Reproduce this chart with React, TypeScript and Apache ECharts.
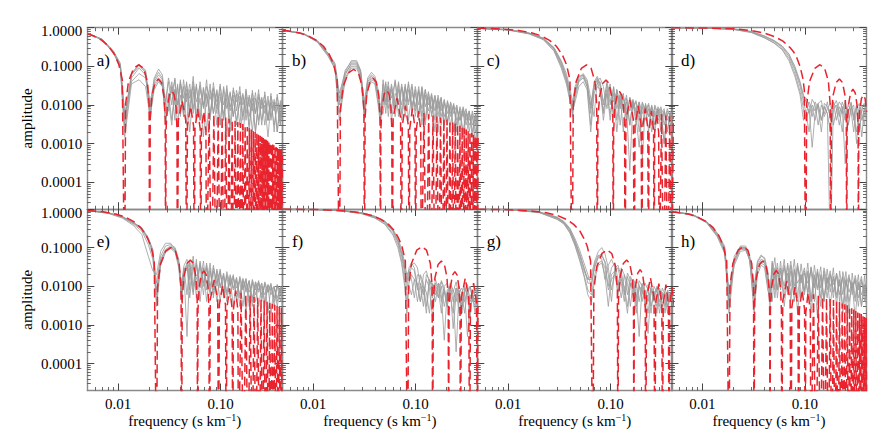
import React, { useEffect, useRef } from "react";
import * as echarts from "echarts";

// ---------- axes ----------
const X_MIN = 0.005;
const X_MAX = 0.4;
const Y_MIN = 2e-5;
const Y_MAX = 1;
const X_MAJOR = [0.01, 0.1];
const X_MINOR = [0.006, 0.007, 0.008, 0.009, 0.02, 0.03, 0.04, 0.05, 0.06, 0.07, 0.08, 0.09, 0.2, 0.3];
const Y_MAJOR = [0.0001, 0.001, 0.01, 0.1, 1];
const Y_MINOR = [3e-5, 4e-5, 5e-5, 6e-5, 7e-5, 8e-5, 9e-5, 2e-4, 3e-4, 4e-4, 5e-4, 6e-4, 7e-4, 8e-4, 9e-4,
  0.002, 0.003, 0.004, 0.005, 0.006, 0.007, 0.008, 0.009, 0.02, 0.03, 0.04, 0.05, 0.06, 0.07, 0.08, 0.09,
  0.2, 0.3, 0.4, 0.5, 0.6, 0.7, 0.8, 0.9];
const PANEL_LABELS = ["a)", "b)", "c)", "d)", "e)", "f)", "g)", "h)"];

// ---------- red dashed model curves [frequency, amplitude] (0 = zero crossing) ----------
const RED_A = [[.005,.7],[.00578,.61],[.00694,.47],[.00809,.33],[.00925,.2],[.01017,.11],[.01098,.045],[.01156,0],
[.01182,.0103],[.01261,.0405],[.01419,.089],[.01594,.11],[.01769,.089],[.01926,.0405],[.02005,.0103],[.02031,0],
[.02057,.0044],[.02136,.0173],[.02294,.038],[.02469,.047],[.02644,.038],[.02801,.0173],[.0288,.0044],[.02906,0],
[.02932,.0022],[.03011,.0085],[.03169,.0186],[.03344,.023],[.03519,.0186],[.03676,.0085],[.03755,.0022],[.03781,0],
[.03869,.004],[.04219,.0128],[.04569,.004],[.04656,0],[.04744,.0029],[.05094,.0092],[.05444,.0029],[.05531,0],
[.05619,.0024],[.05969,.0078],[.06319,.0024],[.06406,0],[.06494,.0021],[.06844,.0068],[.07194,.0021],[.07281,0],
[.07719,.0062],[.08156,0],[.08594,.0057],[.09031,0],[.09469,.0053],[.09906,0],[.10344,.005],[.10781,0],[.11219,.0047],[.11656,0],
[.12094,.0044],[.12531,0],[.12969,.0042],[.13406,0],[.13844,.0039],[.14281,0],[.14719,.0036],[.15156,0],[.15594,.0034],[.16031,0],
[.16469,.0032],[.16906,0],[.17344,.0029],[.17781,0],[.18219,.0027],[.18656,0],[.19094,.0025],[.19531,0],[.19969,.0023],[.20406,0],
[.20844,.0021],[.21281,0],[.21719,.002],[.22156,0],[.22594,.0019],[.23031,0],[.23469,.0017],[.23906,0],[.24344,.0016],[.24781,0],
[.25219,.0015],[.25656,0],[.26094,.0014],[.26531,0],[.26969,.0013],[.27406,0],[.27844,.00125],[.28281,0],[.28719,.00118],[.29156,0],
[.29594,.00112],[.30031,0],[.30469,.00106],[.30906,0],[.31344,.001],[.31781,0],[.32219,.00095],[.32656,0],[.33094,.0009],[.33531,0],
[.33969,.00086],[.34406,0],[.34844,.00082],[.35281,0],[.35719,.00079],[.36156,0],[.36594,.00076],[.37031,0],[.37469,.00073],[.37906,0],
[.38344,.0007],[.38781,0],[.39219,.00068],[.39656,0],[.40094,.00066]];

const RED_B = [[.005,.87],[.0072,.74],[.009,.61],[.0108,.47],[.0126,.33],[.0144,.2],[.01584,.11],[.0171,.045],[.018,0],
[.01841,.0079],[.01964,.0309],[.02209,.068],[.02482,.084],[.02754,.068],[.02999,.0309],[.03122,.0079],[.03163,0],
[.03204,.0046],[.03327,.018],[.03572,.0397],[.03845,.049],[.04117,.0397],[.04362,.018],[.04485,.0046],[.04526,0],
[.04567,.0023],[.0469,.0088],[.04935,.0194],[.05208,.024],[.0548,.0194],[.05725,.0088],[.05848,.0023],[.05889,0],
[.06025,.0047],[.06571,.015],[.07116,.0047],[.07252,0],[.07388,.0029],[.07934,.0095],[.08479,.0029],[.08615,0],
[.08751,.0025],[.09297,.008],[.09842,.0025],[.09978,0],[.10114,.0021],[.1066,.0069],[.11205,.0021],[.11341,0],
[.12023,.0062],[.12704,0],[.13386,.0057],[.14067,0],[.14749,.0053],[.1543,0],[.16112,.005],[.16793,0],[.17475,.0047],[.18156,0],
[.18838,.0044],[.19519,0],[.20201,.0042],[.20882,0],[.21564,.0039],[.22245,0],[.22927,.0036],[.23608,0],[.2429,.0034],[.24971,0],
[.25653,.0032],[.26334,0],[.27016,.0029],[.27697,0],[.28379,.0027],[.2906,0],[.29742,.0025],[.30423,0],[.31105,.0023],[.31786,0],
[.32468,.0021],[.33149,0],[.33831,.002],[.34512,0],[.35194,.0019],[.35875,0],[.36557,.0017],[.37238,0],[.3792,.0016],[.38601,0],
[.39283,.0015],[.39964,0],[.40646,.0014]];

const RED_C = [[.005,.975],[.00844,.93],[.01266,.85],[.01688,.74],[.0211,.61],[.02532,.47],[.02954,.33],[.03376,.2],[.03714,.11],[.04009,.045],[.0422,0],
[.04316,.0102],[.04603,.0401],[.05179,.0883],[.05818,.109],[.06457,.0883],[.07032,.0401],[.07319,.0102],[.07415,0],
[.07511,.0042],[.07798,.0164],[.08374,.036],[.09013,.0445],[.09652,.036],[.10227,.0164],[.10514,.0042],[.1061,0],
[.10706,.0021],[.10993,.0082],[.11569,.018],[.12208,.0223],[.12847,.018],[.13422,.0082],[.13709,.0021],[.13805,0],
[.14125,.0042],[.15403,.0135],[.1668,.0042],[.17,0],[.1732,.0029],[.18598,.0095],[.19876,.0029],[.20195,0],
[.20515,.0025],[.21793,.008],[.2307,.0025],[.2339,0],[.2371,.0022],[.24988,.007],[.26265,.0022],[.26585,0],
[.26905,.0019],[.28183,.0062],[.2946,.0019],[.2978,0],[.31378,.0057],[.32975,0],[.34573,.0053],[.3617,0],[.37768,.005],[.39365,0],[.40963,.0048]];

const RED_D = [[.005,.997],[.0102,.985],[.0204,.94],[.0306,.84],[.0408,.72],[.051,.58],[.0612,.45],[.0714,.31],[.07752,.24],[.08364,.165],[.08976,.1],[.09588,.048],[.09894,.024],[.102,0],
[.10432,.0103],[.11126,.0405],[.12516,.089],[.1406,.11],[.15604,.089],[.16994,.0405],[.17688,.0103],[.1792,0],
[.18152,.0044],[.18846,.0173],[.20236,.038],[.2178,.047],[.23324,.038],[.24714,.0173],[.25408,.0044],[.2564,0],
[.25872,.0024],[.26566,.0094],[.27956,.0206],[.295,.0255],[.31044,.0206],[.32434,.0094],[.33128,.0024],[.3336,0],
[.33592,.0017],[.34286,.0066],[.35676,.0146],[.3722,.018],[.38764,.0146],[.40154,.0066]];

const RED_E = [[.005,.92],[.00711,.85],[.00948,.74],[.01185,.61],[.01422,.47],[.01659,.33],[.01896,.2],[.02086,.11],[.02252,.045],[.0237,0],
[.02424,.0094],[.02585,.0368],[.02908,.081],[.03267,.1],[.03626,.081],[.03949,.0368],[.0411,.0094],[.04164,0],
[.04218,.0045],[.04379,.0177],[.04702,.0389],[.05061,.048],[.0542,.0389],[.05743,.0177],[.05904,.0045],[.05958,0],
[.06012,.0024],[.06173,.0092],[.06496,.0203],[.06855,.025],[.07214,.0203],[.07537,.0092],[.07698,.0024],[.07752,0],
[.07931,.0045],[.08649,.0145],[.09367,.0045],[.09546,0],[.09725,.0033],[.10443,.0105],[.11161,.0033],[.1134,0],
[.11519,.0027],[.12237,.0088],[.12955,.0027],[.13134,0],[.13313,.0024],[.14031,.0077],[.14749,.0024],[.14928,0],
[.15825,.0068],[.16722,0],[.17619,.0062],[.18516,0],[.19413,.0057],[.2031,0],[.21207,.0053],[.22104,0],[.23001,.005],[.23898,0],
[.24795,.0046],[.25692,0],[.26589,.0043],[.27486,0],[.28383,.004],[.2928,0],[.30177,.0037],[.31074,0],[.31971,.0035],[.32868,0],
[.33765,.0033],[.34662,0],[.35559,.0031],[.36456,0],[.37353,.0029],[.3825,0],[.39147,.0028],[.40044,0]];

const RED_F = [[.005,.995],[.01251,.96],[.02085,.89],[.02919,.795],[.03753,.675],[.04587,.54],[.05421,.4],[.06255,.265],[.06839,.17],[.07339,.11],[.07923,.045],[.0834,0],
[.08529,.01],[.09097,.039],[.10233,.0859],[.11495,.106],[.12757,.0859],[.13893,.039],[.14461,.01],[.1465,0],
[.14839,.0042],[.15407,.0166],[.16543,.0365],[.17805,.045],[.19067,.0365],[.20203,.0166],[.20771,.0042],[.2096,0],
[.21149,.0023],[.21717,.0088],[.22853,.0194],[.24115,.024],[.25377,.0194],[.26513,.0088],[.27081,.0023],[.2727,0],
[.27901,.005],[.30425,.016],[.32949,.005],[.3358,0],[.34211,.0037],[.36735,.012],[.39259,.0037],[.3989,0],[.40521,.003]];

const RED_G = [[.005,.99],[.01007,.96],[.01678,.89],[.02349,.8],[.0302,.68],[.0369,.54],[.04362,.4],[.05033,.265],[.05502,.17],[.05905,.11],[.06375,.045],[.0671,0],
[.06862,.0082],[.0732,.032],[.08234,.0705],[.0925,.087],[.10266,.0705],[.1118,.032],[.11638,.0082],[.1179,0],
[.11942,.0045],[.124,.0177],[.13314,.0389],[.1433,.048],[.15346,.0389],[.1626,.0177],[.16718,.0045],[.1687,0],
[.17022,.0025],[.1748,.0097],[.18394,.0219],[.1941,.027],[.20426,.0219],[.2134,.0097],[.21798,.0025],[.2195,0],
[.22458,.0051],[.2449,.0165],[.26522,.0051],[.2703,0],[.27538,.0036],[.2957,.0117],[.31602,.0036],[.3211,0],
[.32618,.0034],[.3465,.011],[.36682,.0034],[.3719,0],[.37698,.0029],[.3973,.0095],[.41762,.0029]];

const RED_H = [[.005,.85],[.00728,.74],[.0091,.61],[.01092,.47],[.01274,.33],[.01456,.2],[.01602,.11],[.01729,.045],[.0182,0],
[.01861,.01],[.01985,.039],[.02233,.086],[.02509,.106],[.02785,.086],[.03033,.039],[.03157,.01],[.03198,0],
[.03239,.0042],[.03363,.0166],[.03611,.0365],[.03887,.045],[.04163,.0365],[.04411,.0166],[.04535,.0042],[.04576,0],
[.04617,.0024],[.04741,.0094],[.04989,.0207],[.05265,.0256],[.05541,.0207],[.05789,.0094],[.05913,.0024],[.05954,0],
[.06092,.0042],[.06643,.0135],[.07194,.0042],[.07332,0],[.0747,.0029],[.08021,.0095],[.08572,.0029],[.0871,0],
[.08848,.0025],[.09399,.008],[.0995,.0025],[.10088,0],[.10226,.0021],[.10777,.0069],[.11328,.0021],[.11466,0],
[.12155,.0062],[.12844,0],[.13533,.0057],[.14222,0],[.14911,.0053],[.156,0],[.16289,.005],[.16978,0],[.17667,.0047],[.18356,0],
[.19045,.0044],[.19734,0],[.20423,.0042],[.21112,0],[.21801,.0039],[.2249,0],[.23179,.0036],[.23868,0],[.24557,.0034],[.25246,0],
[.25935,.0032],[.26624,0],[.27313,.0029],[.28002,0],[.28691,.0027],[.2938,0],[.30069,.0025],[.30758,0],[.31447,.0023],[.32136,0],
[.32825,.0021],[.33514,0],[.34203,.002],[.34892,0],[.35581,.0019],[.3627,0],[.36959,.0017],[.37648,0],[.38337,.0016],[.39026,0],
[.39715,.0015],[.40404,0]];

// ---------- grey measured curves: frequency grid per panel + amplitudes ----------
const GRID_A = [.005,.007,.009,.0105,.0116,.0135,.016,.0185,.0205,.0225,.0248,.027,.029,.031,.0334,.0358,.038,.0405,.0435,.0465,.05,.054,.058,.063,.068,.073,.079,.085,.092,.099,.107,.115,.124,.133,.143,.154,.165,.177,.19,.204,.219,.235,.252,.27,.29,.31,.333,.357,.383,.4];
const GRAY_A = [
[.72,.5,.24,.11,.004,.065,.11,.075,.006,.04,.06,.045,.01,.04,.01,.05,.006,.045,.005,.04,.008,.055,.005,.04,.009,.045,.004,.038,.008,.035,.004,.032,.003,.028,.007,.03,.004,.026,.002,.024,.006,.025,.003,.022,.004,.02,.002,.019,.004,.017],
[.72,.49,.23,.1,.003,.06,.1,.07,.004,.045,.07,.05,.004,.008,.04,.01,.03,.005,.045,.012,.035,.006,.03,.004,.028,.009,.035,.006,.025,.003,.03,.008,.022,.005,.024,.01,.02,.004,.018,.007,.021,.003,.016,.006,.017,.004,.014,.002,.013,.006],
[.71,.48,.22,.09,.002,.05,.09,.06,.008,.03,.045,.03,.006,.02,.004,.025,.003,.018,.006,.02,.002,.022,.004,.015,.0015,.018,.005,.02,.003,.016,.006,.015,.002,.014,.004,.012,.0015,.013,.003,.011,.002,.012,.004,.01,.0015,.011,.003,.009,.003,.01],
[.72,.5,.25,.12,.006,.04,.065,.05,.01,.05,.085,.06,.012,.05,.02,.045,.01,.04,.015,.035,.006,.04,.012,.032,.008,.03,.014,.028,.006,.03,.01,.026,.007,.024,.012,.022,.005,.023,.009,.02,.006,.019,.01,.018,.004,.017,.008,.016,.005,.015],
[.71,.49,.23,.1,.0015,.035,.045,.03,.005,.025,.04,.03,.008,.007,.03,.004,.035,.006,.03,.003,.025,.008,.035,.004,.028,.002,.025,.006,.022,.003,.026,.0015,.02,.005,.019,.003,.018,.006,.016,.002,.015,.004,.014,.003,.013,.005,.012,.002,.011,.004],
[.72,.5,.24,.11,.005,.065,.11,.08,.012,.035,.05,.04,.003,.012,.003,.025,.01,.035,.005,.025,.015,.03,.004,.025,.01,.02,.006,.026,.012,.02,.004,.02,.009,.018,.003,.017,.01,.016,.005,.015,.002,.016,.008,.013,.004,.012,.007,.011,.003,.01]];

const GRID_B = [.005,.008,.011,.014,.0163,.018,.0205,.0235,.0265,.029,.0316,.034,.037,.04,.043,.0453,.048,.051,.054,.058,.063,.068,.073,.079,.085,.092,.099,.107,.115,.124,.133,.143,.154,.165,.177,.19,.204,.219,.235,.252,.27,.29,.31,.333,.357,.383,.4];
const GRAY_B = [
[.87,.7,.45,.21,.11,.012,.06,.12,.12,.07,.01,.04,.055,.045,.02,.006,.015,.04,.008,.035,.01,.04,.006,.03,.012,.035,.007,.03,.005,.025,.01,.02,.004,.018,.007,.014,.003,.012,.006,.01,.002,.009,.004,.007,.0015,.006,.003],
[.87,.71,.46,.22,.12,.02,.07,.14,.14,.08,.006,.045,.06,.05,.015,.004,.045,.012,.04,.007,.045,.01,.035,.008,.04,.006,.03,.01,.028,.004,.022,.008,.018,.005,.016,.003,.013,.006,.011,.002,.009,.005,.008,.002,.007,.003,.006],
[.86,.69,.43,.19,.09,.006,.05,.1,.1,.055,.004,.03,.045,.04,.012,.008,.006,.025,.012,.03,.005,.025,.01,.035,.004,.022,.009,.025,.003,.018,.007,.016,.002,.013,.005,.011,.004,.009,.002,.008,.004,.007,.0015,.006,.003,.005,.001],
[.87,.7,.44,.2,.1,.015,.08,.13,.13,.075,.012,.05,.07,.055,.025,.005,.035,.006,.03,.015,.04,.005,.03,.012,.035,.008,.025,.004,.03,.009,.02,.005,.017,.008,.015,.003,.012,.005,.01,.003,.008,.002,.007,.004,.006,.001,.005],
[.86,.69,.42,.18,.085,.004,.045,.09,.09,.05,.008,.025,.04,.035,.01,.003,.02,.01,.03,.004,.02,.012,.028,.005,.025,.01,.02,.006,.022,.003,.016,.006,.014,.002,.012,.005,.01,.003,.009,.004,.007,.0015,.006,.003,.005,.002,.004],
[.87,.7,.45,.21,.105,.01,.065,.11,.11,.065,.005,.035,.05,.042,.018,.01,.01,.035,.005,.025,.008,.035,.004,.028,.01,.03,.005,.022,.008,.025,.004,.018,.007,.015,.003,.013,.006,.011,.002,.009,.004,.008,.003,.007,.002,.006,.002]];

const GRID_C = [.005,.01,.016,.022,.028,.033,.037,.04,.0425,.045,.049,.054,.059,.064,.069,.074,.079,.085,.092,.099,.107,.115,.124,.133,.143,.154,.165,.177,.19,.204,.219,.235,.252,.27,.29,.31,.333,.357,.383,.4];
const GRAY_C = [
[.97,.89,.72,.53,.3,.13,.055,.022,.008,.02,.045,.06,.04,.008,.03,.045,.02,.006,.035,.01,.028,.004,.02,.008,.018,.003,.014,.007,.012,.0004,.011,.005,.01,.003,.009,.006,.008,.002,.007,.005],
[.97,.88,.71,.52,.28,.11,.045,.018,.006,.015,.04,.05,.03,.003,.025,.035,.04,.012,.025,.004,.03,.008,.018,.002,.015,.007,.013,.003,.012,.006,.01,.002,.009,.005,.008,.002,.007,.004,.006,.002],
[.97,.88,.7,.5,.26,.1,.04,.015,.01,.025,.05,.065,.045,.015,.005,.04,.05,.03,.008,.03,.012,.022,.003,.016,.008,.0002,.012,.006,.011,.003,.01,.005,.009,.002,.008,.004,.007,.002,.006,.004],
[.97,.89,.73,.54,.31,.14,.065,.028,.012,.03,.055,.06,.03,.01,.035,.05,.03,.004,.02,.035,.006,.025,.01,.017,.004,.015,.008,.012,.002,.011,.006,.01,.003,.009,.005,.008,.001,.007,.005,.006],
[.96,.87,.69,.49,.25,.09,.035,.013,.007,.012,.03,.04,.025,.002,.02,.03,.025,.007,.02,.006,.02,.002,.014,.007,.012,.003,.011,.005,.0008,.009,.004,.008,.002,.007,.004,.006,.001,.006,.003,.005],
[.97,.89,.72,.53,.29,.12,.05,.02,.005,.02,.042,.055,.035,.006,.04,.055,.035,.01,.04,.015,.005,.025,.008,.02,.004,.016,.009,.013,.004,.012,.007,.011,.003,.01,.006,.009,.003,.008,.005,.007]];

const GRID_D = [.005,.01,.02,.03,.04,.05,.06,.07,.08,.09,.097,.103,.11,.118,.126,.135,.145,.155,.166,.178,.19,.203,.217,.232,.248,.265,.283,.3,.32,.34,.36,.38,.4];
const GRAY_D = [
[.998,.985,.93,.8,.62,.47,.34,.21,.1,.04,.018,.012,.006,.014,.01,.003,.01,.006,.012,.004,.009,.013,.007,.002,.01,.006,.012,.004,.009,.002,.008,.011,.005],
[.998,.985,.92,.78,.59,.44,.31,.18,.08,.03,.012,.006,.012,.008,.004,.011,.013,.005,.008,.011,.003,.007,.012,.009,.004,.01,.007,.002,.008,.011,.006,.003,.009],
[.997,.98,.91,.76,.56,.41,.28,.16,.065,.022,.008,.004,.008,.0008,.006,.01,.004,.009,.006,1e-6,.012,.008,.003,.009,.0003,.007,.011,.005,.002,.009,.004,.007,.01],
[.998,.985,.93,.79,.61,.46,.33,.2,.09,.036,.016,.015,.01,.005,.012,.008,.002,.011,.009,.005,.012,.004,.009,.006,.013,.003,.008,.01,.001,.007,.01,.005,.008],
[.997,.98,.9,.75,.55,.4,.27,.14,.055,.018,.004,.006,.002,.01,.007,.011,.004,.009,.006,.002,.008,.01,.005,.012,.007,.003,.009,.005,.01,.006,.0015,.008,.006]];

const GRID_E = [.005,.008,.011,.014,.017,.0197,.0218,.0237,.026,.029,.0325,.036,.039,.0416,.044,.047,.05,.054,.058,.063,.068,.073,.079,.085,.092,.099,.107,.115,.124,.133,.143,.154,.165,.177,.19,.204,.219,.235,.252,.27,.29,.31,.333,.357,.383,.4];
const GRAY_E = [
[.92,.8,.64,.45,.32,.17,.08,.008,.05,.09,.11,.09,.045,.006,.025,.04,.008,.045,.005,.04,.01,.035,.006,.03,.012,.025,.005,.02,.01,.018,.004,.016,.008,.015,.003,.014,.006,.013,.004,.012,.007,.011,.003,.011,.006,.01],
[.92,.79,.62,.43,.3,.15,.07,.004,.04,.08,.1,.085,.04,.01,.03,.006,.04,.01,.05,.004,.03,.012,.04,.006,.025,.009,.02,.004,.018,.008,.016,.003,.015,.007,.014,.004,.013,.008,.012,.003,.011,.006,.01,.004,.01,.005],
[.91,.77,.58,.38,.22,.06,.025,.02,.08,.13,.13,.09,.04,.012,.035,.05,.015,.06,.008,.045,.012,.04,.007,.035,.01,.028,.006,.024,.011,.02,.005,.018,.009,.016,.004,.015,.008,.014,.005,.013,.007,.012,.004,.011,.007,.01],
[.92,.8,.63,.44,.31,.16,.085,.012,.06,.11,.12,.1,.05,.004,.02,.0005,.03,.006,.035,.009,.03,.004,.025,.008,.02,.004,.018,.007,.015,.003,.014,.006,.013,.002,.012,.005,.011,.003,.01,.006,.01,.002,.009,.005,.009,.003],
[.91,.78,.6,.41,.27,.12,.05,.006,.045,.085,.105,.08,.035,.008,.03,.025,.045,.007,.04,.012,.045,.008,.03,.005,.028,.01,.022,.006,.02,.009,.017,.005,.016,.008,.014,.003,.013,.007,.012,.004,.011,.008,.01,.003,.009,.006],
[.92,.79,.63,.45,.33,.18,.09,.003,.035,.075,.095,.075,.03,.005,.018,.035,.005,.03,.015,.035,.006,.03,.01,.025,.004,.022,.008,.018,.005,.016,.009,.014,.003,.013,.007,.012,.004,.012,.006,.011,.002,.01,.005,.01,.004,.009]];

const GRID_F = [.005,.01,.02,.03,.04,.05,.06,.067,.073,.078,.082,.086,.091,.097,.104,.111,.119,.127,.136,.146,.156,.167,.178,.19,.203,.217,.232,.248,.265,.283,.3,.32,.34,.36,.38,.4];
const GRAY_F = [
[.995,.98,.9,.78,.62,.45,.26,.14,.06,.022,.008,.02,.03,.025,.008,.02,.012,.003,.015,.01,.004,.012,.006,.0004,.008,.01,.004,.009,.002,.007,.01,.005,.0015,.008,.006,.003],
[.995,.98,.9,.79,.64,.47,.28,.16,.075,.032,.015,.03,.04,.03,.01,.004,.02,.025,.012,.005,.015,.008,.002,.01,.012,.006,.002,.009,.007,.003,.008,.011,.004,.006,.009,.007],
[.995,.975,.89,.76,.59,.42,.23,.12,.045,.014,.004,.012,.02,.015,.004,.012,.006,.015,.009,.0015,.01,.012,.004,.008,.003,.009,.006,.0002,.007,.009,.004,.008,.002,.006,.004,.007],
[.995,.98,.91,.8,.65,.49,.3,.18,.09,.04,.02,.025,.035,.04,.03,.01,.003,.02,.015,.008,.012,.005,.014,.009,.004,.011,.007,.013,.005,.002,.009,.006,.01,.004,.008,.006],
[.995,.975,.88,.75,.58,.4,.21,.1,.038,.01,.002,.01,.006,.015,.012,.004,.01,.007,.002,.012,.008,.005,.01,.003,.007,.009,.0008,.006,.008,.003,.007,.0005,.006,.005,.002,.006],
[.995,.98,.9,.78,.63,.46,.27,.15,.068,.028,.012,.025,.015,.005,.02,.018,.008,.002,.014,.011,.006,.01,.013,.007,.003,.012,.008,.004,.01,.006,.002,.008,.01,.005,.003,.009]];

const GRID_G = [.005,.01,.02,.03,.035,.04,.045,.05,.055,.06,.065,.07,.076,.082,.088,.095,.102,.11,.118,.127,.136,.146,.156,.167,.178,.19,.203,.217,.232,.248,.265,.283,.3,.32,.34,.36,.38,.4];
const GRAY_G = [
[.995,.97,.84,.6,.46,.3,.15,.07,.03,.012,.012,.03,.06,.07,.04,.01,.03,.04,.015,.005,.02,.012,.003,.015,.01,.004,.012,.006,.002,.01,.007,.003,.009,.006,.002,.008,.005,.007],
[.995,.965,.83,.58,.44,.27,.13,.06,.025,.015,.02,.045,.08,.1,.07,.03,.008,.025,.03,.012,.004,.018,.01,.015,.006,.0005,.011,.008,.004,.009,.006,.002,.008,.006,.003,.007,.004,.006],
[.995,.96,.81,.54,.41,.24,.11,.045,.018,.006,.004,.015,.035,.04,.02,.003,.02,.025,.01,.025,.008,.002,.012,.009,.003,.01,.008,.004,.0006,.008,.006,.009,.003,.007,.005,.002,.006,.004],
[.995,.97,.85,.62,.48,.32,.17,.085,.04,.02,.01,.04,.065,.05,.015,.035,.05,.03,.006,.03,.02,.006,.018,.012,.005,.014,.01,.003,.011,.008,.004,.01,.007,.003,.008,.006,.004,.007],
[.995,.96,.82,.55,.42,.25,.12,.05,.02,.008,.006,.02,.04,.045,.03,.008,.015,.02,.007,.015,.01,.003,.012,.008,.002,.01,.007,.005,.009,.003,.007,.008,.002,.006,.007,.003,.005,.006],
[.995,.965,.83,.59,.45,.29,.14,.065,.03,.015,.015,.035,.055,.06,.045,.02,.004,.03,.035,.018,.006,.022,.015,.005,.014,.011,.004,.012,.008,.002,.01,.007,.004,.009,.006,.003,.007,.005]];

const GRID_H = [.005,.008,.011,.014,.0165,.0182,.0205,.0235,.0265,.029,.032,.0345,.0375,.0405,.0435,.0458,.048,.051,.054,.058,.063,.068,.073,.079,.085,.092,.099,.107,.115,.124,.133,.143,.154,.165,.177,.19,.204,.219,.235,.252,.27,.29,.31,.333,.357,.383,.4];
const GRAY_H = [
[.87,.72,.47,.23,.1,.004,.05,.1,.1,.055,.006,.035,.05,.045,.02,.004,.02,.055,.008,.045,.005,.04,.01,.05,.005,.038,.008,.04,.004,.035,.009,.032,.004,.028,.007,.03,.003,.025,.006,.024,.002,.022,.005,.02,.003,.019,.004],
[.87,.71,.46,.21,.085,.002,.04,.09,.09,.045,.003,.03,.045,.04,.015,.008,.04,.008,.03,.012,.05,.006,.035,.004,.03,.012,.025,.006,.03,.009,.022,.003,.025,.008,.02,.005,.022,.01,.018,.004,.017,.008,.016,.003,.015,.006,.013],
[.86,.7,.44,.19,.07,.006,.06,.11,.11,.06,.01,.04,.06,.055,.025,.006,.01,.03,.005,.025,.01,.035,.004,.025,.012,.02,.006,.022,.002,.02,.008,.018,.004,.017,.01,.016,.005,.015,.003,.014,.007,.013,.004,.012,.006,.011,.003],
[.87,.72,.48,.24,.11,.008,.035,.08,.085,.05,.005,.025,.04,.035,.01,.003,.045,.015,.04,.008,.035,.012,.045,.006,.035,.014,.03,.007,.032,.01,.028,.005,.03,.012,.025,.007,.022,.004,.024,.01,.02,.006,.019,.008,.018,.004,.016],
[.87,.71,.46,.22,.095,.003,.05,.105,.1,.05,.008,.045,.065,.05,.012,.01,.004,.025,.008,.03,.003,.022,.006,.028,.002,.02,.007,.025,.004,.018,.0015,.02,.005,.016,.003,.018,.006,.014,.002,.015,.004,.012,.0015,.013,.003,.011,.003],
[.86,.7,.45,.2,.08,.005,.045,.095,.095,.05,.002,.02,.035,.03,.008,.005,.03,.005,.02,.015,.03,.007,.025,.01,.04,.005,.022,.012,.026,.004,.024,.009,.02,.005,.021,.011,.018,.006,.017,.002,.016,.009,.014,.005,.013,.007,.012]];

// ---------- style ----------
const FONT = "Liberation Serif";
const RED = "#e8232d";
const GRAY = "#9a9a9a";
const FRAME = "#8a8a8a";
const TICK = "#444444";
const FLOOR = 1e-7;
const LEFTS = [87.3, 282.4, 477.3, 671.5];
const TOPS = [27.7, 209];
const W = 195;
const H = 181.5;

const PANELS = [
  { red: RED_A, grid: GRID_A, gray: GRAY_A },
  { red: RED_B, grid: GRID_B, gray: GRAY_B },
  { red: RED_C, grid: GRID_C, gray: GRAY_C },
  { red: RED_D, grid: GRID_D, gray: GRAY_D },
  { red: RED_E, grid: GRID_E, gray: GRAY_E },
  { red: RED_F, grid: GRID_F, gray: GRAY_F },
  { red: RED_G, grid: GRID_G, gray: GRAY_G },
  { red: RED_H, grid: GRID_H, gray: GRAY_H },
];

function buildOption() {
  const grids: any[] = [];
  const xAxes: any[] = [];
  const yAxes: any[] = [];
  const series: any[] = [];
  const graphics: any[] = [];

  PANELS.forEach((p, i) => {
    const row = Math.floor(i / 4);
    const col = i % 4;
    const left = LEFTS[col];
    const top = TOPS[row];
    grids.push({ left, top, width: W, height: H });

    const baseX = {
      type: "log", logBase: 10, gridIndex: i, min: X_MIN, max: X_MAX,
      splitLine: { show: false }, minorTick: { show: false }, minorSplitLine: { show: false },
      axisPointer: { show: false }, silent: true,
    };
    const baseY = {
      type: "log", logBase: 10, gridIndex: i, min: Y_MIN, max: Y_MAX,
      splitLine: { show: false }, minorTick: { show: false }, minorSplitLine: { show: false },
      axisPointer: { show: false }, silent: true,
    };
    const majorLine = { show: true, onZero: false, lineStyle: { color: FRAME, width: 1.4 } };
    const noLine = { show: false, onZero: false };
    const majorTickX = { show: true, inside: true, length: 7, customValues: X_MAJOR, lineStyle: { color: TICK, width: 1 } };
    const minorTickX = { show: true, inside: true, length: 3.5, customValues: X_MINOR, lineStyle: { color: TICK, width: 0.8 } };
    const majorTickY = { show: true, inside: true, length: 7, customValues: Y_MAJOR, lineStyle: { color: TICK, width: 1 } };
    const minorTickY = { show: true, inside: true, length: 3.5, customValues: Y_MINOR, lineStyle: { color: TICK, width: 0.8 } };

    xAxes.push({
      ...baseX, position: "bottom", axisLine: majorLine, axisTick: majorTickX,
      axisLabel: {
        show: row === 1, customValues: X_MAJOR, margin: 6,
        formatter: (v: number) => v.toFixed(2),
        fontFamily: FONT, fontSize: 15, color: "#000",
      },
    });
    xAxes.push({ ...baseX, position: "bottom", axisLine: noLine, axisTick: minorTickX, axisLabel: { show: false } });
    xAxes.push({ ...baseX, position: "top", axisLine: majorLine, axisTick: majorTickX, axisLabel: { show: false } });
    xAxes.push({ ...baseX, position: "top", axisLine: noLine, axisTick: minorTickX, axisLabel: { show: false } });

    yAxes.push({
      ...baseY, position: "left", axisLine: majorLine, axisTick: majorTickY,
      axisLabel: {
        show: col === 0, customValues: Y_MAJOR, margin: 5,
        formatter: (v: number) => (Math.abs(v - 1) < 1e-9 ? "{t|1.0000}" : v.toFixed(4)),
        fontFamily: FONT, fontSize: 15, color: "#000",
        rich: { t: { fontFamily: FONT, fontSize: 15, color: "#000", padding: [7, 0, 0, 0] } },
      },
    });
    yAxes.push({ ...baseY, position: "left", axisLine: noLine, axisTick: minorTickY, axisLabel: { show: false } });
    yAxes.push({ ...baseY, position: "right", axisLine: majorLine, axisTick: majorTickY, axisLabel: { show: false } });
    yAxes.push({ ...baseY, position: "right", axisLine: noLine, axisTick: minorTickY, axisLabel: { show: false } });

    p.gray.forEach((curve) => {
      series.push({
        type: "line", xAxisIndex: 4 * i, yAxisIndex: 4 * i, symbol: "none", silent: true, z: 2,
        lineStyle: { color: GRAY, width: 0.8 },
        data: p.grid.map((f, k) => [f, curve[k]]),
      });
    });
    series.push({
      type: "line", xAxisIndex: 4 * i, yAxisIndex: 4 * i, symbol: "none", silent: true, z: 3,
      lineStyle: { color: RED, width: 1.5, type: [9, 4.5] },
      data: p.red.map(([f, a]) => [f, a > 0 ? a : FLOOR]),
    });

    graphics.push({
      type: "text", left: left + 9.5, top: top + 24, silent: true,
      style: { text: PANEL_LABELS[i], fontFamily: FONT, fontSize: 17, fill: "#000" },
    });
    if (row === 1) {
      graphics.push({
        type: "text", x: left + W / 2, y: 421, silent: true,
        style: {
          text: "{m|frequency (s km}{s|−1}{m|)}",
          align: "center", verticalAlign: "middle",
          rich: {
            m: { fontFamily: FONT, fontSize: 15, fill: "#000", lineHeight: 18 },
            s: { fontFamily: FONT, fontSize: 10, fill: "#000", verticalAlign: "top", lineHeight: 10 },
          },
        },
      });
    }
    if (col === 0) {
      graphics.push({
        type: "text", x: 27, y: top + H / 2, rotation: Math.PI / 2, silent: true,
        style: { text: "amplitude", fontFamily: FONT, fontSize: 15, fill: "#000", align: "center", verticalAlign: "middle" },
      });
    }
  });

  return {
    animation: false,
    backgroundColor: "#ffffff",
    textStyle: { fontFamily: FONT },
    grid: grids,
    xAxis: xAxes,
    yAxis: yAxes,
    series,
    graphic: { elements: graphics },
  };
}

export default function App() {
  const ref = useRef<HTMLDivElement>(null);
  useEffect(() => {
    if (!ref.current) return;
    const chart = echarts.init(ref.current, null, { renderer: "svg" });
    chart.setOption(buildOption() as any);
    return () => chart.dispose();
  }, []);
  return <div ref={ref} style={{ position: "fixed", left: 0, top: 0, width: 892, height: 446 }} />;
}
